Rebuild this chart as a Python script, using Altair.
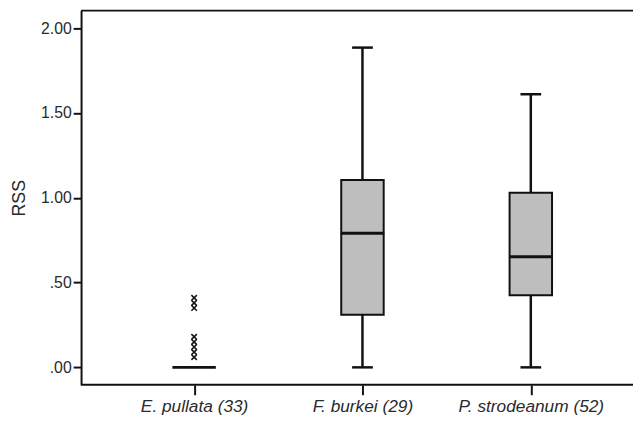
import altair as alt
import pandas as pd

# ---- data ----
categories = ["E. pullata (33)", "F. burkei (29)", "P. strodeanum (52)"]
whisker_low = [0.0, 0.0, 0.0]
q1 = [0.0, 0.31, 0.425]
median = [0.0, 0.79, 0.652]
q3 = [0.0, 1.105, 1.03]
whisker_high = [0.0, 1.885, 1.61]

outlier_cat = ["E. pullata (33)"] * 8
outlier_vals = [0.41, 0.38, 0.35, 0.18, 0.15, 0.12, 0.09, 0.06]

y_ticks = [0.0, 0.5, 1.0, 1.5, 2.0]

W, H = 551, 379
FONT = "Liberation Sans"
INK = "#111111"
TXT = "#2a2a2a"

box_df = pd.DataFrame({
    "cat": categories, "lo": whisker_low, "q1": q1, "med": median,
    "q3": q3, "hi": whisker_high,
})
out_df = pd.DataFrame({"cat": outlier_cat, "v": outlier_vals})

xscale = alt.Scale(type="point", range=[114.5, 455.5], padding=0)
yscale = alt.Scale(domain=[-0.103, 2.103], nice=False, zero=False)

x_enc = alt.X(
    "cat:N", sort=categories, scale=xscale,
    axis=alt.Axis(
        title=None, labelAngle=0, labelFont=FONT, labelFontSize=17.5,
        labelFontStyle="italic", labelColor=TXT, labelPadding=3,
        tickSize=10, tickWidth=2, tickColor=INK, domain=False, grid=False,
    ),
)
y_axis = alt.Axis(
    values=y_ticks,
    labelExpr="datum.value < 1 ? substring(format(datum.value, '.2f'), 1) : format(datum.value, '.2f')",
    labelFont=FONT, labelFontSize=16, labelColor=TXT, labelPadding=2,
    tickSize=8, tickWidth=2, tickColor=INK,
    domainColor=INK, domainWidth=2, grid=False,
    title="RSS", titleFont=FONT, titleFontSize=18, titleFontWeight="normal",
    titleColor=TXT, titlePadding=12,
)

base = alt.Chart(box_df)
real = base.transform_filter("datum.q3 > datum.q1")

whisker = real.mark_rule(color=INK, strokeWidth=2.5).encode(
    x=x_enc, y=alt.Y("lo:Q", scale=yscale, axis=y_axis), y2="hi:Q"
)
cap_lo = real.mark_tick(color=INK, size=21, thickness=2.5, opacity=1).encode(
    x=x_enc, y=alt.Y("lo:Q", scale=yscale)
)
cap_hi = real.mark_tick(color=INK, size=21, thickness=2.5, opacity=1).encode(
    x=x_enc, y=alt.Y("hi:Q", scale=yscale)
)
box = real.mark_bar(size=43, fill="#bebebe", stroke=INK, strokeWidth=2).encode(
    x=x_enc, y=alt.Y("q1:Q", scale=yscale), y2="q3:Q"
)
med = base.mark_tick(color=INK, size=44, thickness=3, opacity=1).encode(
    x=x_enc, y=alt.Y("med:Q", scale=yscale)
)
outl = alt.Chart(out_df).mark_point(
    shape="M-1,-1L1,1M1,-1L-1,1", size=30, filled=False,
    stroke=INK, strokeWidth=1.6, opacity=1,
).encode(x=x_enc, y=alt.Y("v:Q", scale=yscale))

top_line = alt.Chart(pd.DataFrame({"k": [0]})).mark_rule(color=INK, strokeWidth=2).encode(
    x=alt.value(0), x2=alt.value(W + 8), y=alt.value(0)
)
bottom_line = alt.Chart(pd.DataFrame({"k": [0]})).mark_rule(color=INK, strokeWidth=2).encode(
    x=alt.value(0), x2=alt.value(W + 8), y=alt.value(H)
)

chart = alt.layer(
    whisker, cap_lo, cap_hi, box, med, outl, top_line, bottom_line
).properties(
    width=W, height=H,
    autosize=alt.AutoSizeParams(type="none"),
    padding={"left": 74, "top": 0, "right": 8, "bottom": 36},
    background="white",
).configure_view(stroke=None)

chart.save("out.html", embed_options={"renderer": "svg", "actions": False})
